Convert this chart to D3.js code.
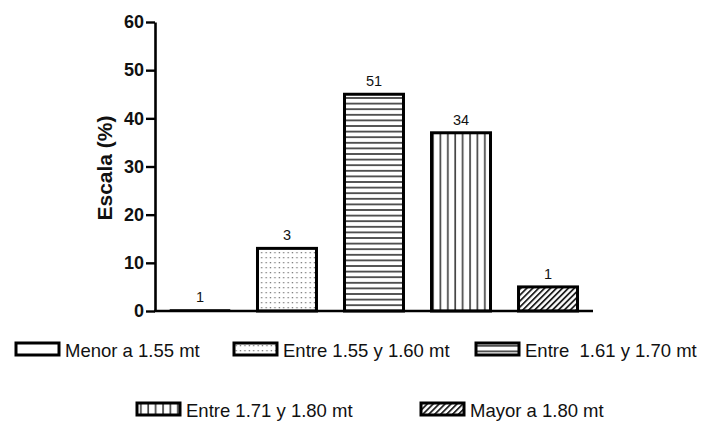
<!DOCTYPE html>
<html>
<head>
<meta charset="utf-8">
<script src="https://cdn.jsdelivr.net/npm/d3@7"></script>
<style>
  html, body { margin: 0; padding: 0; background: #fff; }
  svg { display: block; font-family: "Liberation Sans", Arial, sans-serif; }
</style>
</head>
<body>
<svg id="chart" width="703" height="422"></svg>
<script>
// Height groups and their share (%) with the count printed above each bar
const categories = ["Menor a 1.55 mt", "Entre 1.55 y 1.60 mt", "Entre  1.61 y 1.70 mt", "Entre 1.71 y 1.80 mt", "Mayor a 1.80 mt"];
const percents = [0.2, 13, 45, 37, 5];
const counts = [1, 3, 51, 34, 1];
const patterns = ["none", "dots", "hlines", "vlines", "diag"];
const yTicks = [0, 10, 20, 30, 40, 50, 60];

const svg = d3.select("#chart");
const defs = svg.append("defs");

// Fill patterns
const pDots = defs.append("pattern").attr("id", "dots").attr("patternUnits", "userSpaceOnUse")
  .attr("width", 4.4).attr("height", 5);
pDots.append("rect").attr("x", 1.5).attr("y", 2).attr("width", 1.3).attr("height", 1.3).attr("fill", "#777");

const pH = defs.append("pattern").attr("id", "hlines").attr("patternUnits", "userSpaceOnUse")
  .attr("width", 10).attr("height", 5.6);
pH.append("rect").attr("x", 0).attr("y", 2).attr("width", 10).attr("height", 1.6).attr("fill", "#333");

const pV = defs.append("pattern").attr("id", "vlines").attr("patternUnits", "userSpaceOnUse")
  .attr("width", 7.4).attr("height", 10);
pV.append("rect").attr("x", 3).attr("y", 0).attr("width", 1.7).attr("height", 10).attr("fill", "#444");

const pD = defs.append("pattern").attr("id", "diag").attr("patternUnits", "userSpaceOnUse")
  .attr("width", 4.2).attr("height", 4.2).attr("patternTransform", "rotate(45)");
pD.append("rect").attr("x", 0).attr("y", 0).attr("width", 1.8).attr("height", 4.2).attr("fill", "#222");

const fillOf = p => p === "none" ? "#fff" : `url(#${p})`;

// Scales
const x = d3.scaleBand().domain(categories).range([155, 593]).paddingInner(0.322).paddingOuter(0.178);
const y = d3.scaleLinear().domain([0, 60]).range([311, 22]);

// Bars
svg.append("g").selectAll("rect").data(categories).join("rect")
  .attr("x", d => x(d))
  .attr("y", (d, i) => y(percents[i]))
  .attr("width", x.bandwidth())
  .attr("height", (d, i) => y(0) - y(percents[i]))
  .attr("fill", (d, i) => fillOf(patterns[i]))
  .attr("stroke", "#000")
  .attr("stroke-width", (d, i) => percents[i] < 1 ? 1.6 : 3);

// Count labels
svg.append("g").selectAll("text").data(categories).join("text")
  .attr("x", d => x(d) + x.bandwidth() / 2)
  .attr("y", (d, i) => y(percents[i]) - 8)
  .attr("text-anchor", "middle")
  .attr("font-size", 14.5)
  .attr("fill", "#111")
  .text((d, i) => counts[i]);

// Y axis
const yAxis = svg.append("g").attr("transform", "translate(155,0)")
  .call(d3.axisLeft(y).tickValues(yTicks).tickSize(9).tickPadding(2).tickSizeOuter(0));
yAxis.select(".domain").attr("stroke", "#000").attr("stroke-width", 2.6);
yAxis.selectAll(".tick line").attr("stroke", "#000").attr("stroke-width", 2.4);
yAxis.selectAll(".tick text").attr("font-size", 18).attr("font-weight", "bold").attr("fill", "#111")
  .attr("font-family", "Liberation Sans, Arial, sans-serif");

// X axis baseline
const xAxis = svg.append("g").attr("transform", `translate(0,${y(0)})`)
  .call(d3.axisBottom(x).tickSize(0).tickFormat("").tickSizeOuter(0));
xAxis.select(".domain").attr("stroke", "#000").attr("stroke-width", 2.6)
  .attr("d", "M154,0H593");

// Y axis title
svg.append("text")
  .attr("transform", "translate(104,168) rotate(-90)")
  .attr("text-anchor", "middle")
  .attr("dominant-baseline", "central")
  .attr("font-size", 21)
  .attr("font-weight", "bold")
  .attr("fill", "#111")
  .text("Escala (%)");

// Legend
const legendPos = [
  { sx: 16, sy: 343 }, { sx: 234, sy: 343 }, { sx: 476, sy: 343 },
  { sx: 137, sy: 403 }, { sx: 421, sy: 403 }
];
const legend = svg.append("g").selectAll("g").data(categories).join("g")
  .attr("transform", (d, i) => `translate(${legendPos[i].sx},${legendPos[i].sy})`);
legend.append("rect")
  .attr("width", 43).attr("height", 12)
  .attr("fill", (d, i) => fillOf(patterns[i]))
  .attr("stroke", "#000").attr("stroke-width", 3);
legend.append("text")
  .attr("x", 49).attr("y", 13.5)
  .attr("font-size", 18.5)
  .attr("fill", "#111")
  .attr("xml:space", "preserve")
  .style("white-space", "pre")
  .text(d => d);
</script>
</body>
</html>
